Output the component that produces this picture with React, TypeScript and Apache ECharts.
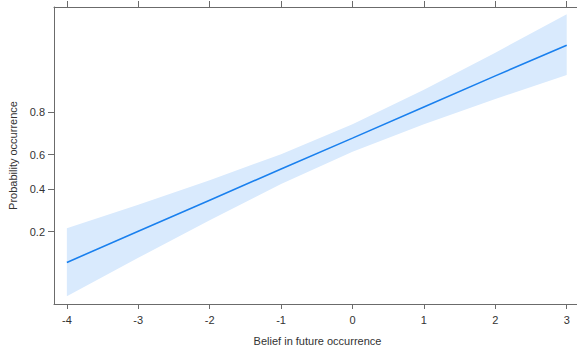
import React, { useEffect, useRef } from "react";
import * as echarts from "echarts";

const xValues = [-4, -3, -2, -1, 0, 1, 2, 3];
const predicted = [0.109, 0.202, 0.342, 0.517, 0.687, 0.819, 0.903, 0.950];
const ciUpper = [0.213, 0.319, 0.452, 0.602, 0.752, 0.871, 0.941, 0.975];
const ciLower = [0.053, 0.120, 0.246, 0.430, 0.615, 0.752, 0.845, 0.905];
const xTicks = [-4, -3, -2, -1, 0, 1, 2, 3];
const yTickProbs = [0.2, 0.4, 0.6, 0.8];

const logit = (p: number) => Math.log(p / (1 - p));
const invLogit = (v: number) => 1 / (1 + Math.exp(-v));

const AXIS_COLOR = "#6b6b6b";
const TEXT_COLOR = "#333333";
const FONT = "'Liberation Sans', Arial, sans-serif";

export default function App() {
  const ref = useRef<HTMLDivElement>(null);
  useEffect(() => {
    document.body.style.margin = "0";
    const chart = echarts.init(ref.current!, undefined, { renderer: "svg" });
    const yTicks = yTickProbs.map(logit);
    const lineData = xValues.map((x, i) => [x, logit(predicted[i])]);
    const upperPts = xValues.map((x, i) => [x, logit(ciUpper[i])]);
    const lowerPts = xValues.map((x, i) => [x, logit(ciLower[i])]);

    const axisCommon = {
      axisLine: { show: true, onZero: false, lineStyle: { color: AXIS_COLOR, width: 1 } },
      splitLine: { show: false },
    };

    chart.setOption({
      animation: false,
      grid: { left: 54, right: -4, top: 7, bottom: 54, outerBoundsMode: "none", containLabel: false },
      xAxis: [
        {
          type: "value",
          min: -4.18,
          max: 3.2,
          position: "bottom",
          ...axisCommon,
          axisTick: { show: true, inside: false, length: 5, customValues: xTicks, lineStyle: { color: AXIS_COLOR } },
          axisLabel: {
            show: true,
            customValues: xTicks,
            margin: 10,
            color: TEXT_COLOR,
            fontSize: 11,
            fontFamily: FONT,
          },
          name: "Belief in future occurrence",
          nameLocation: "middle",
          nameGap: 31,
          nameTextStyle: { color: TEXT_COLOR, fontSize: 11, fontFamily: FONT },
        },
        {
          type: "value",
          min: -4.18,
          max: 3.2,
          position: "top",
          ...axisCommon,
          axisTick: { show: true, inside: false, length: 6, customValues: xTicks, lineStyle: { color: AXIS_COLOR } },
          axisLabel: { show: false },
        },
      ],
      yAxis: {
        type: "value",
        min: -3.065,
        max: 3.83,
        position: "left",
        ...axisCommon,
        axisTick: { show: true, inside: false, length: 6, customValues: yTicks, lineStyle: { color: AXIS_COLOR } },
        axisLabel: {
          show: true,
          customValues: yTicks,
          margin: 9,
          color: TEXT_COLOR,
          fontSize: 11,
          fontFamily: FONT,
          formatter: (v: number) => invLogit(v).toFixed(1),
        },
        name: "Probability occurrence",
        nameLocation: "middle",
        nameGap: 35,
        nameTextStyle: { color: TEXT_COLOR, fontSize: 11, fontFamily: FONT },
      },
      series: [
        {
          type: "custom",
          xAxisIndex: 0,
          data: [0],
          renderItem: (_params: any, api: any) => {
            const pts = upperPts
              .map((p) => api.coord(p))
              .concat(lowerPts.slice().reverse().map((p) => api.coord(p)));
            return {
              type: "polygon",
              shape: { points: pts },
              style: { fill: "#d9eafd", stroke: "none" },
            };
          },
          silent: true,
          z: 1,
        },
        {
          type: "line",
          xAxisIndex: 0,
          data: lineData,
          showSymbol: false,
          lineStyle: { color: "#1a80ee", width: 1.6 },
          z: 2,
        },
      ],
    });
    return () => chart.dispose();
  }, []);
  return <div ref={ref} style={{ width: 577, height: 358 }} />;
}
